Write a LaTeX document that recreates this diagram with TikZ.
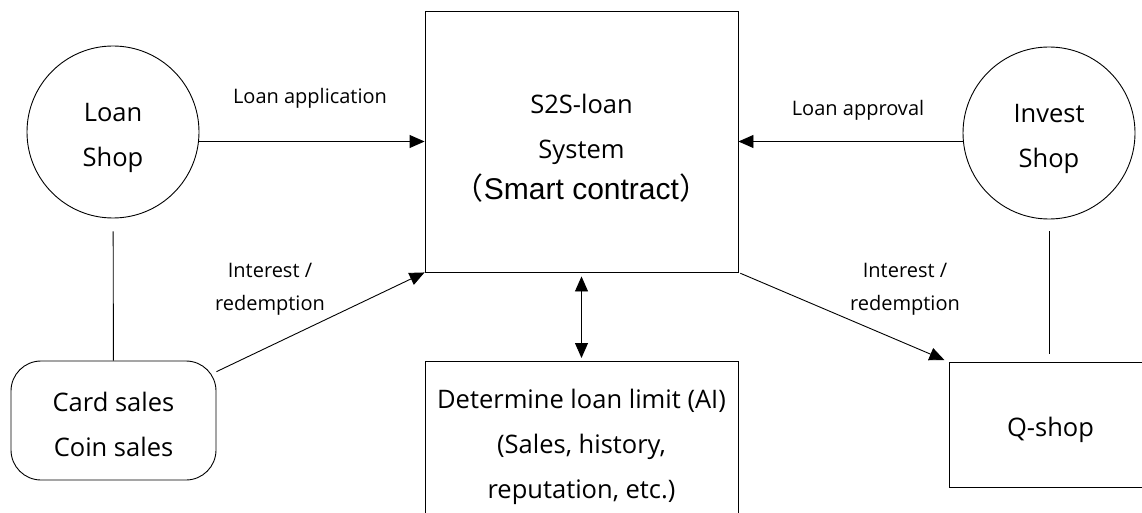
\documentclass[tikz,border=0pt]{standalone}
\usepackage{fontspec}
\setmainfont{Open Sans}
\newfontfamily\smartfont{Liberation Sans}
\newfontfamily\cjkfont{Noto Sans CJK KR}
\usetikzlibrary{arrows.meta}
\newcommand{\pushdown}[1]{\rule{0pt}{#1pt}}

\begin{document}
\begin{tikzpicture}[x=1pt,y=-1pt,line width=0.9pt,
    >={Triangle[length=15pt,width=13pt]},
    every node/.style={align=center,font=\fontsize{25.5}{45}\selectfont},
    shop/.style={draw,circle,minimum size=172pt,inner sep=0pt},
    box/.style={draw,rectangle,inner sep=0pt},
    flow/.style={font=\fontsize{20}{33}\selectfont}]
    \clip (0,0) rectangle (1142,513);
    \useasboundingbox (0,0) rectangle (1142,513);

    \node[shop] (loan) at (113,132) {\pushdown{31}Loan\\Shop};
    \node[shop] (invest) at (1049,133) {\pushdown{31}Invest\\Shop};
    \node[box,minimum width=313pt,minimum height=261pt] (main) at (581.5,141.5)
        {\pushdown{33}S2S-loan\\System\\[-4pt]{\fontsize{30}{45}\selectfont\cjkfont （}{\fontsize{30}{45}\selectfont\smartfont Smart contract}{\fontsize{30}{45}\selectfont\cjkfont ）}};
    \node[box,minimum width=313pt,minimum height=170pt,anchor=north] (limit) at (581.5,361)
        {Determine loan limit (AI)\\(Sales, history,\\reputation, etc.)};
    \node[box,minimum width=202pt,minimum height=125pt,anchor=north west] (qshop) at (949,362) {\pushdown{29}Q-shop};
    \node[box,rounded corners=30pt,minimum width=205pt,minimum height=119pt] (card) at (113.5,420.5)
        {\pushdown{27}Card sales\\Coin sales};

    \draw[->] (main.west -| loan.east) -- (main.west);
    \draw[->] (main.east -| invest.west) -- (main.east);
    \draw[shorten <=13pt] (loan) -- (card);
    \draw[shorten <=12pt,shorten >=8pt] (invest) -- (invest.south |- qshop.north);
    \draw[->] (card) -- (main.south west);
    \draw[->,shorten <=2pt,shorten >=5pt] (main.south east) -- (qshop.north west);
    \draw[<->,shorten <=4pt,shorten >=3pt] (main) -- (limit.north);

    \node[flow] (apply) at (310,98) {Loan application};
    \node[flow] (approve) at (858,110) {Loan approval};
    \node[flow] (payin) at (270,289) {Interest /\\redemption};
    \node[flow] (payout) at (905,289) {Interest /\\redemption};
\end{tikzpicture}
\end{document}
